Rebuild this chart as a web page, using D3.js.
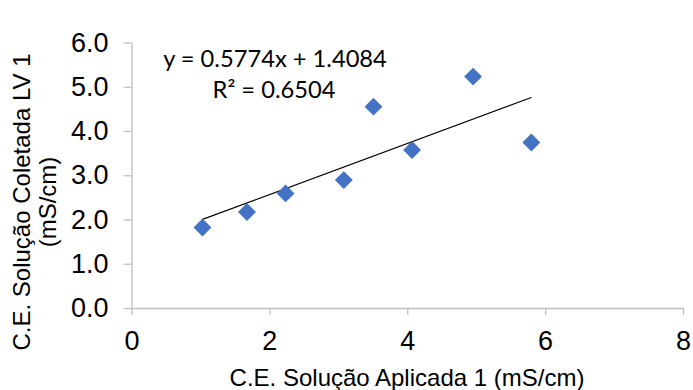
<!DOCTYPE html>
<html><head><meta charset="utf-8">
<script src="https://cdn.jsdelivr.net/npm/d3@7"></script>
<style>
html,body{margin:0;padding:0;background:#fff;}
svg{display:block;}
</style></head>
<body>
<svg id="chart" width="693" height="390"></svg>
<script>
const xValues = [1.03, 1.675, 2.235, 3.08, 3.51, 4.07, 4.955, 5.80];
const yValues = [1.82, 2.17, 2.59, 2.89, 4.55, 3.57, 5.23, 3.74];
const xTicks = [0, 2, 4, 6, 8];
const yTicks = [0, 1, 2, 3, 4, 5, 6];
const trendSlope = 0.5774;
const trendIntercept = 1.4084;
const equationLabel = "y = 0.5774x + 1.4084";
const r2Label = "R² = 0.6504";
const xTitle = "C.E. Solução Aplicada 1 (mS/cm)";
const yTitleLines = ["C.E. Solução Coletada LV 1", "(mS/cm)"];

const svg = d3.select("#chart");
const x = d3.scaleLinear().domain([0, 8]).range([131.5, 683]);
const y = d3.scaleLinear().domain([0, 6]).range([308, 42.5]);
const axisColor = "#bfbfbf";
const font = "'Liberation Sans', Arial, sans-serif";

const xAxis = svg.append("g").attr("transform", `translate(0,${y(0)})`)
  .call(d3.axisBottom(x).tickValues(xTicks).tickFormat(d3.format("d")).tickSizeInner(7).tickSizeOuter(0).tickPadding(16));
const yAxis = svg.append("g").attr("transform", `translate(${x(0)},0)`)
  .call(d3.axisLeft(y).tickValues(yTicks).tickFormat(d3.format(".1f")).tickSizeInner(8).tickSizeOuter(0).tickPadding(15));
[xAxis, yAxis].forEach(g => {
  g.select(".domain").attr("stroke", axisColor).attr("stroke-width", 1.3);
  g.selectAll(".tick line").attr("stroke", axisColor).attr("stroke-width", 1.3);
  g.selectAll(".tick text").attr("fill", "#000").style("font-family", font).style("font-size", "27px");
});

// trendline
const xMin = d3.min(xValues), xMax = d3.max(xValues);
svg.append("line")
  .attr("x1", x(xMin)).attr("y1", y(trendSlope * xMin + trendIntercept))
  .attr("x2", x(xMax)).attr("y2", y(trendSlope * xMax + trendIntercept))
  .attr("stroke", "#000").attr("stroke-width", 1.2);

// markers
const sym = d3.symbol().type(d3.symbolSquare).size(160);
svg.append("g").selectAll("path").data(xValues.map((v, i) => [v, yValues[i]]))
  .join("path")
  .attr("d", sym)
  .attr("transform", d => `translate(${x(d[0])},${y(d[1])}) rotate(45)`)
  .attr("fill", "#4472C4");

// equation
const eqFont = "Lato, 'Open Sans', sans-serif";
svg.append("text").attr("x", 275).attr("y", 67).attr("text-anchor", "middle")
  .style("font-family", eqFont).style("font-size", "23.7px").text(equationLabel);
svg.append("text").attr("x", 274).attr("y", 98).attr("text-anchor", "middle")
  .style("font-family", eqFont).style("font-size", "23.7px").text(r2Label);

// axis titles
svg.append("text").attr("x", 407).attr("y", 386).attr("text-anchor", "middle")
  .style("font-family", font).style("font-size", "24px").text(xTitle);
const yt = svg.append("text").attr("transform", "translate(0,202) rotate(-90)")
  .attr("text-anchor", "middle").style("font-family", font).style("font-size", "24px");
yt.append("tspan").attr("x", 0).attr("y", 30).text(yTitleLines[0]);
yt.append("tspan").attr("x", 0).attr("y", 56).text(yTitleLines[1]);
</script>
</body></html>
